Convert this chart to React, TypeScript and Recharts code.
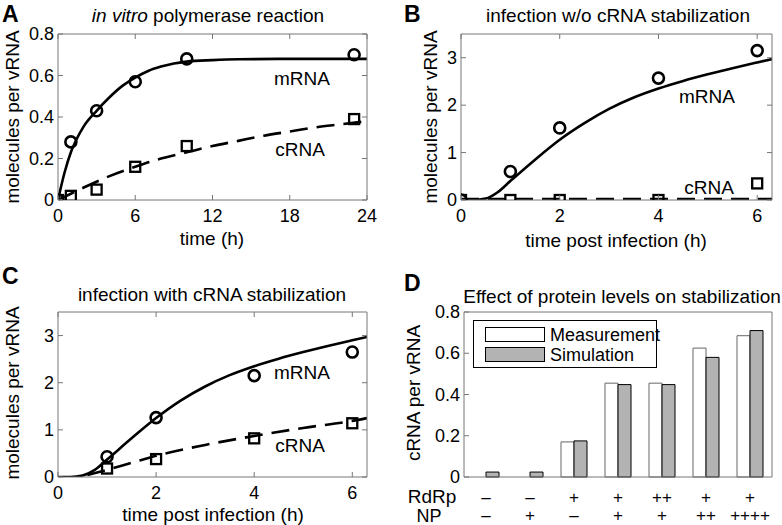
import { ComposedChart, Line, Scatter, XAxis, YAxis, BarChart, Bar, Legend } from 'recharts';

// panel A: in vitro polymerase reaction
const curveTimeA = [0, 0.5, 1, 1.5, 2, 3, 4, 5, 6, 7, 8, 9, 10, 12, 14, 18, 24];
const mrnaCurveA = [0, 0.13, 0.23, 0.3, 0.355, 0.43, 0.495, 0.55, 0.59, 0.622, 0.643, 0.658, 0.667, 0.674, 0.678, 0.68, 0.68];
const crnaCurveTimeA = [0, 1, 2, 4, 6, 8, 10, 12, 14, 16, 18, 20, 22, 24];
const crnaCurveA = [0, 0.03, 0.06, 0.115, 0.16, 0.2, 0.23, 0.26, 0.285, 0.31, 0.33, 0.35, 0.365, 0.38];
const sampleTimeA = [0, 1, 3, 6, 10, 23];
const mrnaMeasA = [0, 0.28, 0.43, 0.57, 0.68, 0.7];
const crnaMeasA = [0, 0.02, 0.05, 0.16, 0.26, 0.39];

// panel B: infection w/o cRNA stabilization
const curveTimeB = [0, 0.25, 0.5, 0.75, 1, 1.5, 2, 2.5, 3, 3.5, 4, 4.5, 5, 5.5, 6, 6.3];
const mrnaCurveB = [0, 0, 0.03, 0.17, 0.4, 0.85, 1.27, 1.62, 1.92, 2.16, 2.35, 2.51, 2.65, 2.78, 2.9, 2.97];
const crnaCurveB = [0.02, 0.02, 0.02, 0.02, 0.02, 0.02, 0.02, 0.02, 0.02, 0.02, 0.02, 0.02, 0.02, 0.02, 0.02, 0.02];
const sampleTimeB = [0, 1, 2, 4, 6];
const mrnaMeasB = [0, 0.6, 1.52, 2.57, 3.15];
const crnaMeasB = [0, 0, 0, 0, 0.35];

// panel C: infection with cRNA stabilization
const curveTimeC = [0, 0.25, 0.5, 0.75, 1, 1.5, 2, 2.5, 3, 3.5, 4, 4.5, 5, 5.5, 6, 6.3];
const mrnaCurveC = [0, 0, 0.03, 0.15, 0.37, 0.82, 1.25, 1.62, 1.92, 2.16, 2.35, 2.51, 2.65, 2.78, 2.9, 2.97];
const crnaCurveTimeC = [0.6, 1, 1.5, 2, 3, 4, 5, 6, 6.3];
const crnaCurveC = [0.04, 0.15, 0.3, 0.45, 0.68, 0.87, 1.04, 1.19, 1.25];
const sampleTimeC = [1, 2, 4, 6];
const mrnaMeasC = [0.43, 1.26, 2.15, 2.65];
const crnaMeasC = [0.18, 0.38, 0.82, 1.14];

// panel D: effect of protein levels
const rdrpLevels = ['–', '–', '+', '+', '++', '+', '+'];
const npLevels = ['–', '+', '–', '+', '+', '++', '++++'];
const measurementD = [0, 0, 0.17, 0.455, 0.455, 0.625, 0.685];
const simulationD = [0.024, 0.024, 0.175, 0.448, 0.448, 0.58, 0.71];

const FONT = '"Liberation Sans", Arial, Helvetica, sans-serif';
const FRAME = '#777';
const TICK_FS = 18;
const LABEL_FS = 19;

const zip = (xs: number[], ys: number[]) => xs.map((t, i) => ({ t, v: ys[i] }));

const BottomTick = (props: any) => {
  const { x, y, payload } = props;
  return (
    <g>
      <line x1={x} x2={x} y1={y} y2={y - 5} stroke={FRAME} />
      <text x={x} y={y + 16} textAnchor="middle" dominantBaseline="central" fontSize={TICK_FS} fontFamily={FONT} fill="#000">
        {String(payload.value)}
      </text>
    </g>
  );
};

const LeftTick = (props: any) => {
  const { x, y, payload } = props;
  return (
    <g>
      <line x1={x} x2={x + 5} y1={y} y2={y} stroke={FRAME} />
      <text x={x - 4} y={y} textAnchor="end" dominantBaseline="central" fontSize={TICK_FS} fontFamily={FONT} fill="#000">
        {String(payload.value)}
      </text>
    </g>
  );
};

const TopTick = (props: any) => {
  const { x, y } = props;
  return <line x1={x} x2={x} y1={y} y2={y + 5} stroke={FRAME} />;
};

const RightTick = (props: any) => {
  const { x, y } = props;
  return <line x1={x} x2={x - 5} y1={y} y2={y} stroke={FRAME} />;
};

const OpenCircle = (props: any) => (
  <circle cx={props.cx} cy={props.cy} r={5.5} fill="none" stroke="#000" strokeWidth={2.6} />
);

const OpenSquare = (props: any) => (
  <rect x={props.cx - 5} y={props.cy - 5} width={10} height={10} fill="none" stroke="#000" strokeWidth={2.3} />
);

const txt = (s: React.CSSProperties): React.CSSProperties => ({
  position: 'absolute',
  fontFamily: FONT,
  fontSize: LABEL_FS,
  color: '#000',
  whiteSpace: 'nowrap',
  lineHeight: 1,
  ...s,
});

const centered = (x: number, y: number, extra: React.CSSProperties = {}) =>
  txt({ left: x, top: y, transform: 'translate(-50%, -50%)', ...extra });

const vertical = (x: number, y: number) =>
  txt({ left: x, top: y, transform: 'translate(-50%, -50%) rotate(-90deg)' });

interface TimePanelProps {
  width: number;
  height: number;
  margin: { top: number; right: number; left: number; bottom: number };
  yWidth: number;
  xHeight: number;
  xDomain: [number, number];
  xTicks: number[];
  yDomain: [number, number];
  yTicks: number[];
  mrnaCurve: { t: number; v: number }[];
  crnaCurve: { t: number; v: number }[];
  mrnaMeas: { t: number; v: number }[];
  crnaMeas: { t: number; v: number }[];
}

// top / right axes only draw the box and the inward ticks (MATLAB style);
// they need a size of at least 1px or recharts skips them
function TimePanel(p: TimePanelProps) {
  return (
    <ComposedChart width={p.width} height={p.height} margin={p.margin}>
      <XAxis
        xAxisId="b"
        dataKey="t"
        type="number"
        domain={p.xDomain}
        ticks={p.xTicks}
        allowDataOverflow
        height={p.xHeight}
        tickSize={0}
        tickMargin={0}
        tickLine={false}
        axisLine={{ stroke: FRAME }}
        tick={<BottomTick />}
        interval={0}
      />
      <XAxis
        xAxisId="top"
        orientation="top"
        dataKey="t"
        type="number"
        domain={p.xDomain}
        ticks={p.xTicks}
        allowDataOverflow
        height={1}
        tickSize={0}
        tickMargin={0}
        tickLine={false}
        axisLine={{ stroke: FRAME }}
        tick={<TopTick />}
        interval={0}
      />
      <YAxis
        yAxisId="l"
        type="number"
        domain={p.yDomain}
        ticks={p.yTicks}
        allowDataOverflow
        width={p.yWidth}
        tickSize={0}
        tickMargin={0}
        tickLine={false}
        axisLine={{ stroke: FRAME }}
        tick={<LeftTick />}
        interval={0}
      />
      <YAxis
        yAxisId="r"
        orientation="right"
        type="number"
        domain={p.yDomain}
        ticks={p.yTicks}
        allowDataOverflow
        width={1}
        tickSize={0}
        tickMargin={0}
        tickLine={false}
        axisLine={{ stroke: FRAME }}
        tick={<RightTick />}
        interval={0}
      />
      <Line
        xAxisId="b"
        yAxisId="l"
        data={p.mrnaCurve}
        dataKey="v"
        type="monotone"
        stroke="#000"
        strokeWidth={2.6}
        dot={false}
        activeDot={false}
        isAnimationActive={false}
      />
      <Line
        xAxisId="b"
        yAxisId="l"
        data={p.crnaCurve}
        dataKey="v"
        type="monotone"
        stroke="#000"
        strokeWidth={2.6}
        strokeDasharray="18 9"
        dot={false}
        activeDot={false}
        isAnimationActive={false}
      />
      <Scatter xAxisId="b" yAxisId="l" data={p.mrnaMeas} dataKey="v" shape={<OpenCircle />} isAnimationActive={false} />
      <Scatter xAxisId="top" yAxisId="r" data={p.crnaMeas} dataKey="v" shape={<OpenSquare />} isAnimationActive={false} />
    </ComposedChart>
  );
}

const ProteinTick = (props: any) => {
  const { x, y, payload } = props;
  const i = payload.index;
  return (
    <g>
      <text x={x} y={y + 20} textAnchor="middle" dominantBaseline="central" fontFamily={FONT} fontSize={17} fill="#000">
        {rdrpLevels[i]}
      </text>
      <text x={x} y={y + 38} textAnchor="middle" dominantBaseline="central" fontFamily={FONT} fontSize={17} fill="#000">
        {npLevels[i]}
      </text>
    </g>
  );
};

const LegendBox = () => (
  <div
    style={{
      border: '1px solid #000',
      background: '#fff',
      width: 184,
      height: 48,
      boxSizing: 'border-box',
      position: 'relative',
      fontFamily: FONT,
      fontSize: 18,
    }}
  >
    {[
      { label: 'Measurement', fill: '#fff', stroke: '#000', top: 6 },
      { label: 'Simulation', fill: '#b3b3b3', stroke: '#000', top: 26 },
    ].map((item) => (
      <div key={item.label} style={{ position: 'absolute', left: 11, top: item.top, display: 'flex', alignItems: 'center', height: 15 }}>
        <div style={{ width: 60, height: 15, background: item.fill, border: `1px solid ${item.stroke}`, boxSizing: 'border-box' }} />
        <span style={{ marginLeft: 5, lineHeight: 1 }}>{item.label}</span>
      </div>
    ))}
  </div>
);

function ProteinPanel() {
  const data = rdrpLevels.map((r, i) => ({
    name: `${r}/${npLevels[i]}`,
    measurement: measurementD[i],
    simulation: simulationD[i],
  }));
  return (
    <BarChart
      width={391}
      height={263}
      data={data}
      margin={{ top: 49, right: 9, left: 0, bottom: 0 }}
      barSize={13}
      barGap={0}
    >
      <XAxis
        xAxisId="b"
        dataKey="name"
        height={48}
        tickSize={0}
        tickMargin={0}
        tickLine={false}
        axisLine={{ stroke: FRAME }}
        tick={<ProteinTick />}
        interval={0}
      />
      <XAxis xAxisId="top" orientation="top" dataKey="name" height={1} tick={false} tickLine={false} axisLine={{ stroke: FRAME }} />
      <YAxis
        yAxisId="l"
        type="number"
        domain={[0, 0.8]}
        ticks={[0, 0.2, 0.4, 0.6, 0.8]}
        width={73}
        tickSize={0}
        tickMargin={0}
        tickLine={false}
        axisLine={{ stroke: FRAME }}
        tick={<LeftTick />}
        interval={0}
      />
      <YAxis
        yAxisId="r"
        orientation="right"
        type="number"
        domain={[0, 0.8]}
        ticks={[0, 0.2, 0.4, 0.6, 0.8]}
        width={1}
        tickSize={0}
        tickMargin={0}
        tickLine={false}
        axisLine={{ stroke: FRAME }}
        tick={<RightTick />}
        interval={0}
      />
      <Legend
        layout="vertical"
        align="center"
        verticalAlign="middle"
        wrapperStyle={{ left: 82, top: 58, width: 184 }}
        content={<LegendBox />}
      />
      <Bar xAxisId="b" yAxisId="l" dataKey="measurement" fill="#fff" stroke="#666" strokeWidth={1} isAnimationActive={false} />
      <Bar xAxisId="b" yAxisId="l" dataKey="simulation" fill="#b3b3b3" stroke="#000" strokeWidth={1} isAnimationActive={false} />
    </BarChart>
  );
}

export default function App() {
  const bold = { fontWeight: 'bold' as const, fontSize: 23 };
  return (
    <div style={{ position: 'absolute', left: 0, top: 0, width: 782, height: 525, background: '#fff', overflow: 'hidden' }}>
      {/* A */}
      <div style={{ position: 'absolute', left: 0, top: 0 }}>
        <TimePanel
          width={391}
          height={262}
          margin={{ top: 33, right: 23, left: 0, bottom: 0 }}
          yWidth={58}
          xHeight={62}
          xDomain={[0, 24]}
          xTicks={[0, 6, 12, 18, 24]}
          yDomain={[0, 0.8]}
          yTicks={[0, 0.2, 0.4, 0.6, 0.8]}
          mrnaCurve={zip(curveTimeA, mrnaCurveA)}
          crnaCurve={zip(crnaCurveTimeA, crnaCurveA)}
          mrnaMeas={zip(sampleTimeA, mrnaMeasA)}
          crnaMeas={zip(sampleTimeA, crnaMeasA)}
        />
      </div>
      {/* B */}
      <div style={{ position: 'absolute', left: 391, top: 0 }}>
        <TimePanel
          width={391}
          height={262}
          margin={{ top: 33, right: 9, left: 0, bottom: 0 }}
          yWidth={70}
          xHeight={62}
          xDomain={[0, 6.3]}
          xTicks={[0, 2, 4, 6]}
          yDomain={[0, 3.5]}
          yTicks={[0, 1, 2, 3]}
          mrnaCurve={zip(curveTimeB, mrnaCurveB)}
          crnaCurve={zip(curveTimeB, crnaCurveB)}
          mrnaMeas={zip(sampleTimeB, mrnaMeasB)}
          crnaMeas={zip(sampleTimeB, crnaMeasB)}
        />
      </div>
      {/* C */}
      <div style={{ position: 'absolute', left: 0, top: 262 }}>
        <TimePanel
          width={391}
          height={263}
          margin={{ top: 49, right: 23, left: 0, bottom: 0 }}
          yWidth={58}
          xHeight={48}
          xDomain={[0, 6.3]}
          xTicks={[0, 2, 4, 6]}
          yDomain={[0, 3.5]}
          yTicks={[0, 1, 2, 3]}
          mrnaCurve={zip(curveTimeC, mrnaCurveC)}
          crnaCurve={zip(crnaCurveTimeC, crnaCurveC)}
          mrnaMeas={zip(sampleTimeC, mrnaMeasC)}
          crnaMeas={zip(sampleTimeC, crnaMeasC)}
        />
      </div>
      {/* D */}
      <div style={{ position: 'absolute', left: 391, top: 262 }}>
        <ProteinPanel />
      </div>

      {/* panel letters */}
      <div style={txt({ left: 2, top: 3, ...bold })}>A</div>
      <div style={txt({ left: 404, top: 3, ...bold })}>B</div>
      <div style={txt({ left: 2, top: 265, ...bold })}>C</div>
      <div style={txt({ left: 404, top: 272, ...bold })}>D</div>

      {/* titles */}
      <div style={centered(208, 15)}>
        <i>in vitro</i> polymerase reaction
      </div>
      <div style={centered(618, 15)}>infection w/o cRNA stabilization</div>
      <div style={centered(212, 294)}>infection with cRNA stabilization</div>
      <div style={centered(622, 296)}>Effect of protein levels on stabilization</div>

      {/* axis labels */}
      <div style={centered(212, 238)}>time (h)</div>
      <div style={centered(616, 240)}>time post infection (h)</div>
      <div style={centered(213, 514)}>time post infection (h)</div>
      <div style={vertical(12, 117)}>molecules per vRNA</div>
      <div style={vertical(430, 117)}>molecules per vRNA</div>
      <div style={vertical(12, 393)}>molecules per vRNA</div>
      <div style={vertical(413, 393)}>cRNA per vRNA</div>

      {/* series annotations */}
      <div style={centered(302, 78)}>mRNA</div>
      <div style={centered(300, 149)}>cRNA</div>
      <div style={centered(707, 96)}>mRNA</div>
      <div style={centered(709, 187)}>cRNA</div>
      <div style={centered(302, 372)}>mRNA</div>
      <div style={centered(300, 445)}>cRNA</div>

      {/* protein level row labels */}
      <div style={centered(432, 496)}>RdRp</div>
      <div style={centered(429, 516, { fontSize: 18 })}>NP</div>
    </div>
  );
}
